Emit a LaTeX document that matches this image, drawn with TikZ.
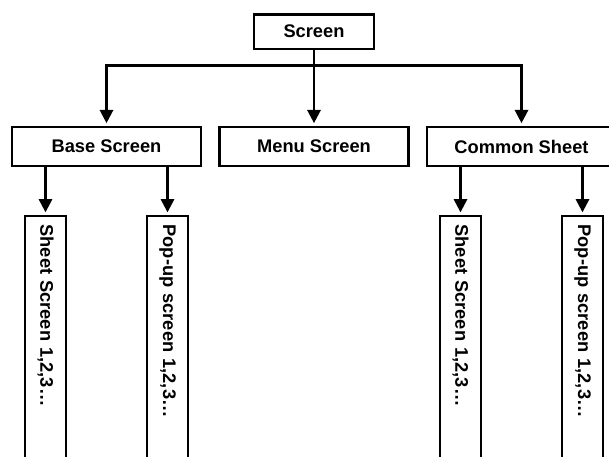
\documentclass[tikz,border=0pt]{standalone}
\usepackage{fontspec}
\setmainfont{Liberation Sans}
\usetikzlibrary{arrows.meta}

\begin{document}
\begin{tikzpicture}[
    box/.style={draw, line width=0.07cm, minimum width=5.67cm, minimum height=1.17cm, font=\fontsize{15.6}{18}\selectfont\bfseries},
    leaf/.style={draw, line width=0.07cm, rotate=-90, anchor=west, minimum height=1.23cm, text width=8.5cm, inner xsep=0.25cm, align=left, font=\fontsize{15.6}{18}\selectfont\bfseries},
    conn/.style={line width=0.07cm, -{Triangle[length=0.4cm, width=0.4cm]}, shorten >=0.08cm},
]
\useasboundingbox (0,0) rectangle (18.27,-13.71);
\clip (0,0) rectangle (18.27,-13.71);

\node[box, minimum width=3.615cm, minimum height=1.035cm] (scr) at (9.42,-0.95) {Screen};
\node[box] (base)   at (3.195,-4.395)  {Base Screen};
\node[box] (menu)   at (9.42,-4.395)   {Menu Screen};
\node[box] (common) at (15.645,-4.395) {Common Sheet};
\coordinate (bus) at (9.42,-1.965);

\node[leaf] (sheetA) at (1.365,-6.45)  {Sheet Screen 1,2,3…};
\node[leaf] (popA)   at (5.025,-6.45)  {Pop-up screen 1,2,3…};
\node[leaf] (sheetB) at (13.815,-6.45) {Sheet Screen 1,2,3…};
\node[leaf] (popB)   at (17.475,-6.45) {Pop-up screen 1,2,3…};

\draw[conn] (scr.south) -- (menu.north);
\draw[conn] (bus) -| (base.north);
\draw[conn] (bus) -| (common.north);

\draw[conn] (base.south -| sheetA.west) -- (sheetA.west);
\draw[conn] (base.south -| popA.west) -- (popA.west);
\draw[conn] (common.south -| sheetB.west) -- (sheetB.west);
\draw[conn] (common.south -| popB.west) -- (popB.west);
\end{tikzpicture}
\end{document}
